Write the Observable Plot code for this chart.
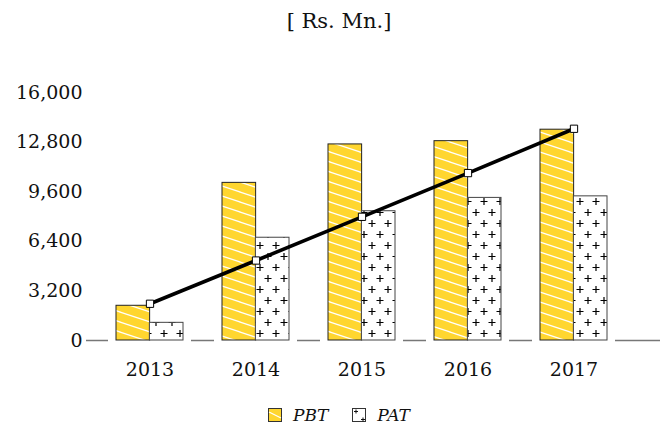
<!DOCTYPE html>
<html>
<head>
<meta charset="utf-8">
<script src="https://cdn.jsdelivr.net/npm/d3@7"></script>
<script src="https://cdn.jsdelivr.net/npm/@observablehq/plot@0.6"></script>
<style>
  html, body { margin: 0; padding: 0; background: white; }
  #wrap { width: 660px; font-family: "DejaVu Serif", serif; color: #111; }
  #title { height: 42px; line-height: 42px; text-align: center; font-size: 21px; padding-left: 18px; box-sizing: border-box; }
  #legend { display: flex; justify-content: center; align-items: center; gap: 0; padding-left: 18px; height: 30px; margin-top: 8px; font-style: italic; font-size: 17px; }
  .item { display: flex; align-items: center; margin: 0 12px; }
  .item svg { margin-right: 11px; }
</style>
</head>
<body>
<div id="wrap">
  <div id="title">[ Rs. Mn.]</div>
  <div id="chart"></div>
  <div id="legend"></div>
</div>
<script>
const years = ["2013", "2014", "2015", "2016", "2017"];
const pbt = [2240, 10170, 12650, 12860, 13600];
const pat = [1140, 6630, 8340, 9200, 9300];
const trend = [2370, 5160, 7980, 10800, 13660];
const yTicks = [0, 3200, 6400, 9600, 12800, 16000];
const seriesNames = ["PBT", "PAT"];

const data = years.map((year, i) => ({year, pbt: pbt[i], pat: pat[i], trend: trend[i]}));

const W = 660, H = 350, mL = 86, mR = 0, mT = 50, mB = 52;
const padIn = 0.371, padOut = 0.39, align = 0.364;
const bw = d3.scaleBand().domain(years).range([mL, W - mR])
  .paddingInner(padIn).paddingOuter(padOut).align(align).bandwidth();

const chart = Plot.plot({
  width: W, height: H,
  marginLeft: mL, marginRight: mR, marginTop: mT, marginBottom: mB,
  style: {fontFamily: "DejaVu Serif", fontSize: "19px", color: "#111", background: "white", overflow: "visible"},
  x: {type: "band", domain: years, paddingInner: padIn, paddingOuter: padOut, align: align,
      label: null, tickSize: 0, tickPadding: 22},
  y: {domain: [0, 16000], ticks: yTicks, tickFormat: d3.format(","), label: null, tickSize: 0, tickPadding: 4},
  marks: [
    Plot.ruleY([0], {stroke: "#777", strokeWidth: 1.3}),
    Plot.tickY(data, {x: "year", y: () => 0, stroke: "white", strokeWidth: 4, insetLeft: -8, insetRight: -8}),
    Plot.barY(data, {x: "year", y: "pbt", fill: "url(#pbtPat)", stroke: "#222", strokeWidth: 1, insetRight: bw / 2}),
    Plot.barY(data, {x: "year", y: "pat", fill: "url(#patPat)", stroke: "#444", strokeWidth: 1, insetLeft: bw / 2}),
    Plot.lineY(data, {x: "year", y: "trend", stroke: "black", strokeWidth: 3.6}),
    Plot.dot(data, {x: "year", y: "trend", symbol: "square", r: 4.1, fill: "white", stroke: "black", strokeWidth: 1})
  ]
});

d3.select(chart).insert("defs", ":first-child").html(`
  <pattern id="pbtPat" patternUnits="userSpaceOnUse" width="30" height="10">
    <rect width="30" height="10" fill="#FFD62F"/>
    <path d="M-30,-10L60,20M-30,0L30,20M0,-10L60,10" stroke="white" stroke-width="1.2" fill="none"/>
  </pattern>
  <pattern id="patPat" patternUnits="userSpaceOnUse" width="16" height="22">
    <rect width="16" height="22" fill="white"/>
    <path d="M0.5,5.5h7M4,2v7M8.5,16.5h7M12,13v7" stroke="#000" stroke-width="1.2" fill="none"/>
  </pattern>`);

document.getElementById("chart").appendChild(chart);

const legend = d3.select("#legend");
const swatches = {
  PBT: `<svg width="14" height="14"><rect x="0.5" y="0.5" width="13" height="13" fill="#FFD62F" stroke="#333"/><path d="M1,4L13,10" stroke="white" stroke-width="1.2"/></svg>`,
  PAT: `<svg width="14" height="14"><rect x="0.5" y="0.5" width="13" height="13" fill="white" stroke="#333"/><path d="M2,3.5h4M4,1.5v4M9,11.5h4M11,9.5v4" stroke="#111" stroke-width="1"/></svg>`
};
seriesNames.forEach(name => {
  const it = legend.append("div").attr("class", "item");
  it.html(swatches[name] + `<span>${name}</span>`);
});
</script>
</body>
</html>
